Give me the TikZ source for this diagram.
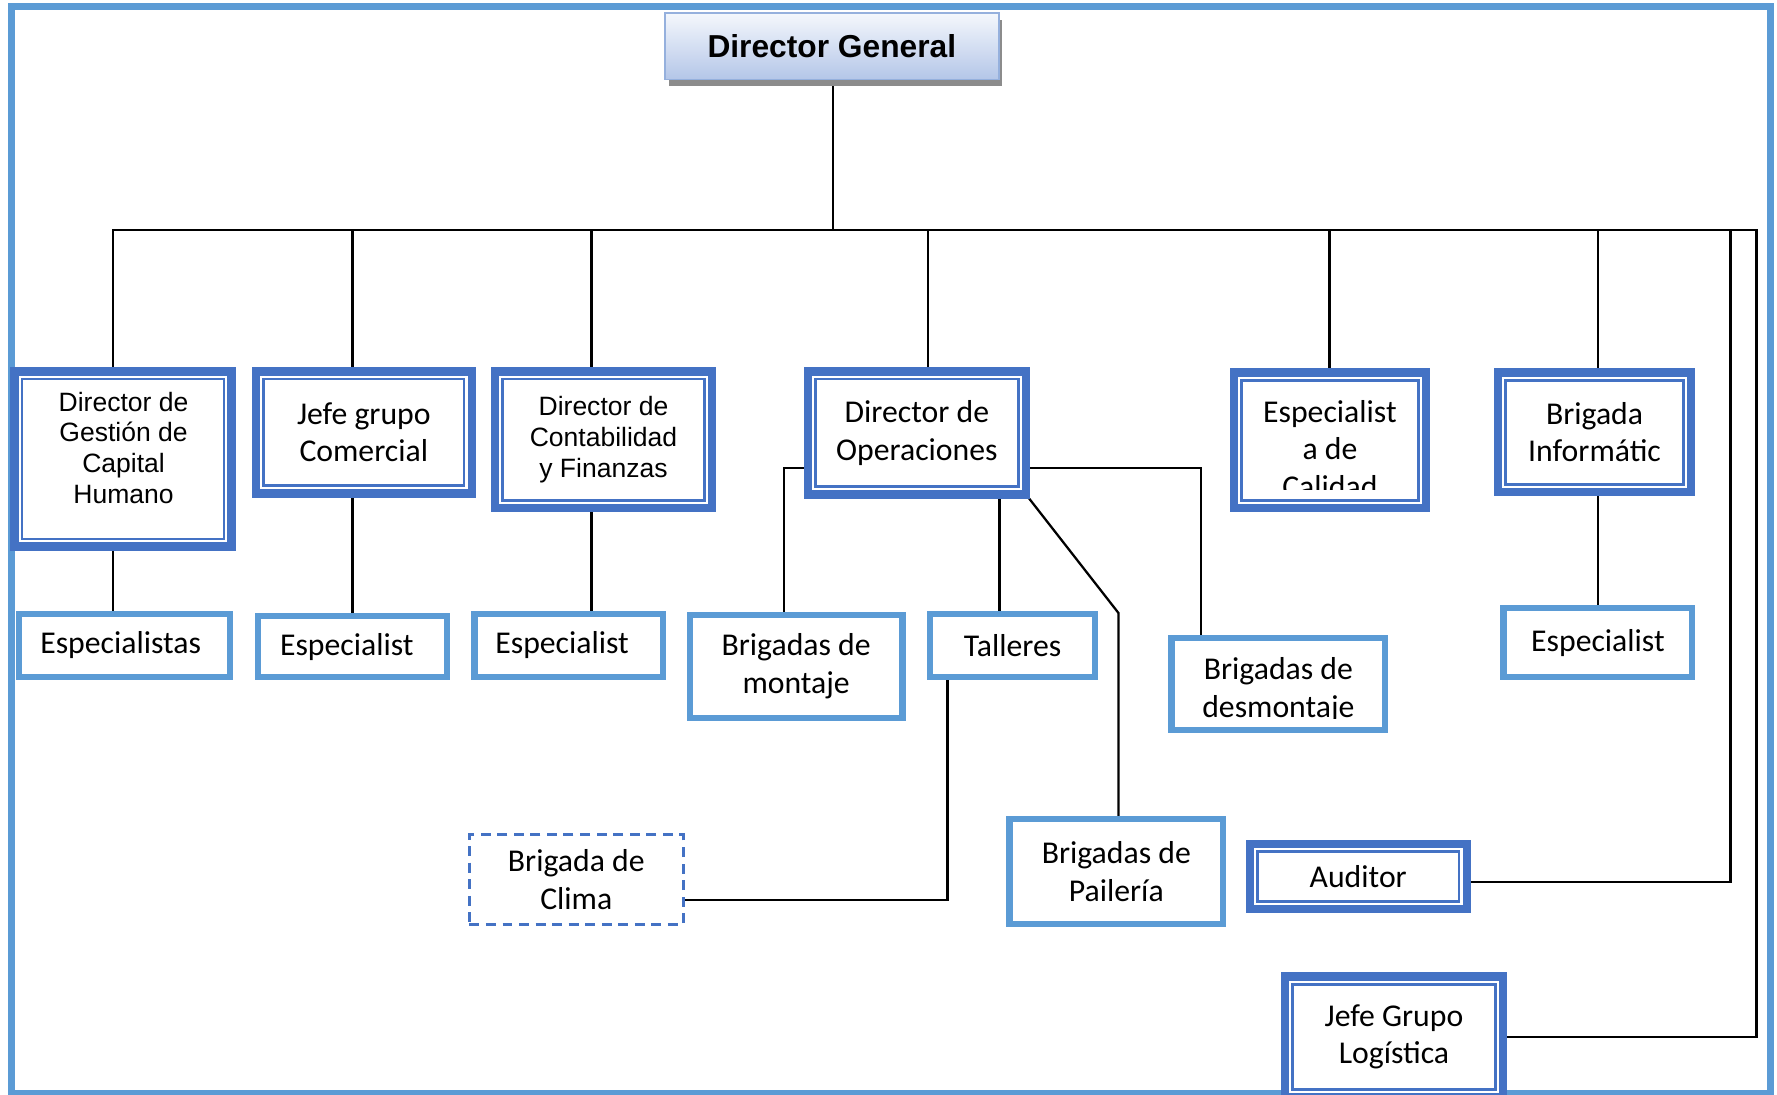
\documentclass[tikz,border=0pt]{standalone}
\usepackage{fontspec}
\setmainfont{Carlito}
\newfontfamily\arialf{Liberation Sans}
\newfontfamily\carl{Carlito}
\usetikzlibrary{shadows,calc}
\definecolor{dkblue}{HTML}{4472C4}
\definecolor{ltblue}{HTML}{5B9BD5}
\definecolor{dgtop}{HTML}{F4F7FC}
\definecolor{dgbot}{HTML}{B4C6E8}
\definecolor{dgline}{HTML}{95B0DD}
\pgfdeclarelayer{bg}
\pgfsetlayers{bg,main}
% #1 inset, #2 name, #3 style, #4 x1, #5 y1, #6 x2, #7 y2, #8 text
\newcommand{\obox}[8][7.4]{%
  \node[#3, inner sep=0pt, outer sep=0pt,
        minimum width={(#6-#4-#1)*0.5pt}, minimum height={(#7-#5-#1)*0.5pt}]
        (#2) at ({(#4+#6)/2},{(#5+#7)/2}) {#8};}
\begin{document}
\begin{tikzpicture}[x=0.5pt,y=-0.5pt,
  conn/.style={draw=black, line width=1pt},
  cfont/.style={font=\carl\fontsize{14}{16.5}\selectfont},
  arialtxt/.style={font=\arialf\fontsize{11.7}{13.5}\selectfont},
  dbox/.style={draw=dkblue, line width=3.7pt, fill=white, align=center, cfont},
  lbox/.style={draw=ltblue, line width=2.75pt, fill=white, align=center, cfont},
  dashbox/.style={draw=dkblue, line width=1.2pt, dash pattern=on 4.4pt off 2.9pt, fill=white, align=center, cfont},
  dgbox/.style={draw=dgline, line width=0.8pt, top color=dgtop, bottom color=dgbot,
     drop shadow={shadow xshift=1.6pt, shadow yshift=-3pt, fill=black!45, opacity=1},
     font=\arialf\bfseries\fontsize{14}{16}\selectfont},
  innerline/.style={draw=dkblue, line width=1.15pt},
  ctext/.style={align=center, inner sep=0pt, cfont},
]
\useasboundingbox (0,0) rectangle (1568,966);
\draw[ltblue, line width=3pt] (10,6) rectangle (1562,965);

% top
\obox[1.6]{dg}{dgbox}{586}{11}{882}{71}{Director General}

% second level
\obox{gch}{dbox}{9}{324}{208}{486}{}
\node[ctext, arialtxt] (gcht) at (109,395) {Director de\\Gestión de\\Capital\\Humano};
\obox{com}{dbox}{222}{324}{420}{439}{Jefe grupo\\Comercial}
\obox{cont}{dbox,arialtxt}{433}{324}{632}{452}{Director de\\Contabilidad\\y Finanzas}
\obox{ops}{dbox}{709}{324}{909}{440}{Director de\\Operaciones}
\obox{cal}{dbox}{1085}{325}{1262}{452}{}
\begin{scope}
  \clip (1085,325) rectangle (1262,432);
  \node[ctext] (calt) at (1173.5,396) {Especialist\\a de\\Calidad};
\end{scope}
\obox{inf}{dbox}{1318}{325}{1496}{438}{Brigada\\Informátic}

% third level
\obox[5.5]{esp1}{lbox}{14}{539}{206}{600}{Especialistas\hspace*{3.5pt}}
\obox[5.5]{esp2}{lbox}{225}{541}{397}{600}{Especialist\hspace*{5pt}}
\obox[5.5]{esp3}{lbox}{416}{539}{588}{600}{Especialist\hspace*{6pt}}
\obox[5.5]{mont}{lbox}{606}{540}{799}{636}{Brigadas de\\montaje}
\obox[5.5]{tall}{lbox}{818}{539}{969}{600}{Talleres}
\obox[5.5]{desm}{lbox}{1031}{560}{1225}{647}{}
\begin{scope}
  \clip (1031,560) rectangle (1225,634);
  \node[ctext] (desmt) at (1128,609) {Brigadas de\\desmontaje};
\end{scope}
\obox[5.5]{esp4}{lbox}{1324}{534}{1496}{600}{Especialist}
\obox[5.5]{pail}{lbox}{888}{720}{1082}{818}{Brigadas de\\Pailería}
\obox[2.4]{clima}{dashbox}{413}{735}{604}{817}{Brigada de\\Clima}
\obox{aud}{dbox}{1099}{741}{1298}{806}{Auditor}
\obox{log}{dbox}{1130}{858}{1330}{972}{Jefe Grupo\\Logística}

% inner thin lines of the double boxes
\foreach \n in {gch,com,cont,ops,cal,inf,aud,log}
  \draw[innerline] ($(\n.north west)+(6.8,6.8)$) rectangle ($(\n.south east)+(-6.8,-6.8)$);

% connectors
\begin{pgfonlayer}{bg}
  \coordinate (bus) at (735,203);
  \coordinate (bend) at (987,541);
  \draw[conn] (bus |- dg.center) -- (bus);
  \draw[conn] (100,0 |- gch.center) -- (100,203) -- (1550,203) -- (1550,0 |- log.east) -- (log.east);
  \draw[conn] (311,203) -- (311,0 |- com.center);
  \draw[conn] (522,203) -- (522,0 |- cont.center);
  \draw[conn] (819,203) -- (819,0 |- ops.center);
  \draw[conn] (1173,203) -- (1173,0 |- cal.center);
  \draw[conn] (1410,203) -- (1410,0 |- inf.center);
  \draw[conn] (1527,203) |- (aud.east |- 0,778);
  \draw[conn] (100,0 |- gch.center) -- (100,0 |- esp1.center);
  \draw[conn] (311,0 |- com.center) -- (311,0 |- esp2.center);
  \draw[conn] (522,0 |- cont.center) -- (522,0 |- esp3.center);
  \draw[conn] (882,0 |- ops.center) -- (882,0 |- tall.center);
  \draw[conn] (1410,0 |- inf.center) -- (1410,0 |- esp4.center);
  \draw[conn] (ops.center |- 0,413) -| (692,0 |- mont.center);
  \draw[conn] (ops.center |- 0,413) -| (1060,0 |- desm.center);
  \draw[conn] (ops.south east) -- (bend) -- (pail.center -| bend);
  \draw[conn] (836,0 |- tall.center) |- (clima.center |- 0,794);
\end{pgfonlayer}
\end{tikzpicture}
\end{document}
